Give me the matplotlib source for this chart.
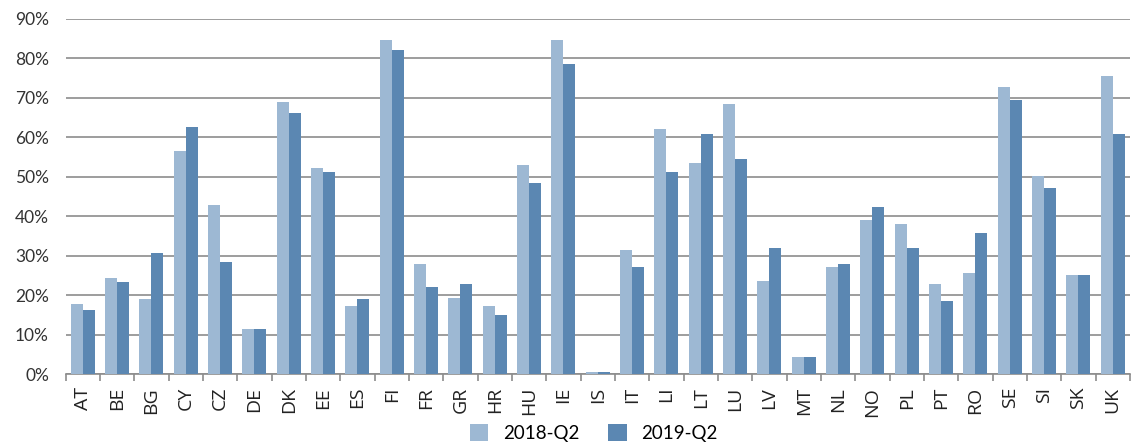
import matplotlib
matplotlib.use('Agg')
import matplotlib.pyplot as plt
from matplotlib.ticker import FuncFormatter
import numpy as np

# chart data (in percent)
countries = ['AT', 'BE', 'BG', 'CY', 'CZ', 'DE', 'DK', 'EE', 'ES', 'FI', 'FR',
             'GR', 'HR', 'HU', 'IE', 'IS', 'IT', 'LI', 'LT', 'LU', 'LV', 'MT',
             'NL', 'NO', 'PL', 'PT', 'RO', 'SE', 'SI', 'SK', 'UK']
q2_2018 = [17.8, 24.3, 19.0, 56.4, 42.8, 11.4, 69.0, 52.1, 17.2, 84.7, 27.9,
           19.3, 17.2, 52.9, 84.7, 0.6, 31.4, 62.0, 53.4, 68.3, 23.6, 4.4,
           27.1, 39.0, 38.0, 22.8, 25.6, 72.6, 50.1, 25.1, 75.6]
q2_2019 = [16.2, 23.3, 30.6, 62.7, 28.4, 11.4, 66.2, 51.1, 19.0, 82.1, 22.0,
           22.8, 15.0, 48.3, 78.6, 0.6, 27.1, 51.3, 60.7, 54.4, 31.9, 4.4,
           27.9, 42.3, 31.9, 18.5, 35.7, 69.3, 47.1, 25.1, 60.7]
series_labels = ['2018-Q2', '2019-Q2']
yticks = np.arange(0, 100, 10)

LIGHT = '#9db8d3'
DARK = '#5b87b2'
GRID = '#8c8c8c'

fig = plt.figure(figsize=(11.31, 4.43), dpi=100)
ax = fig.add_axes([0.058, 0.155, 0.941, 0.803])

x = np.arange(len(countries))
w = 0.35
ax.bar(x - w / 2, q2_2018, width=w, color=LIGHT, label=series_labels[0], zorder=3)
ax.bar(x + w / 2, q2_2019, width=w, color=DARK, label=series_labels[1], zorder=3)

ax.set_xlim(-0.5, len(countries) - 0.5)
ax.set_ylim(0, 90)
ax.set_yticks(yticks)
ax.yaxis.set_major_formatter(FuncFormatter(lambda v, p: '%d%%' % v))
ax.yaxis.grid(True, color=GRID, linewidth=1.2, zorder=0)
ax.tick_params(axis='y', length=0, labelsize=12.5, colors='#333333', pad=12)

# category labels in the middle, tick marks between categories
ax.set_xticks(x)
ax.set_xticklabels(countries, rotation=90, fontsize=14, color='#222222')
ax.tick_params(axis='x', which='major', length=0, pad=9)
ax.set_xticks(np.arange(-0.5, len(countries), 1), minor=True)
ax.tick_params(axis='x', which='minor', length=5, color=GRID, width=1.2)

for s in ['top', 'right', 'left']:
    ax.spines[s].set_visible(False)
ax.spines['bottom'].set_color(GRID)
ax.spines['bottom'].set_linewidth(1.2)

for lbl in ax.get_yticklabels():
    lbl.set_family(['Lato', 'DejaVu Sans'])
for lbl in ax.get_xticklabels():
    lbl.set_family(['Open Sans', 'DejaVu Sans'])

fig.legend(loc='lower center', bbox_to_anchor=(0.525, -0.035), ncol=2, frameon=False,
           handlelength=1.0, handleheight=1.0, columnspacing=1.5,
           prop={'family': 'Lato', 'size': 13.5})

fig.savefig('out.png', dpi=100)
